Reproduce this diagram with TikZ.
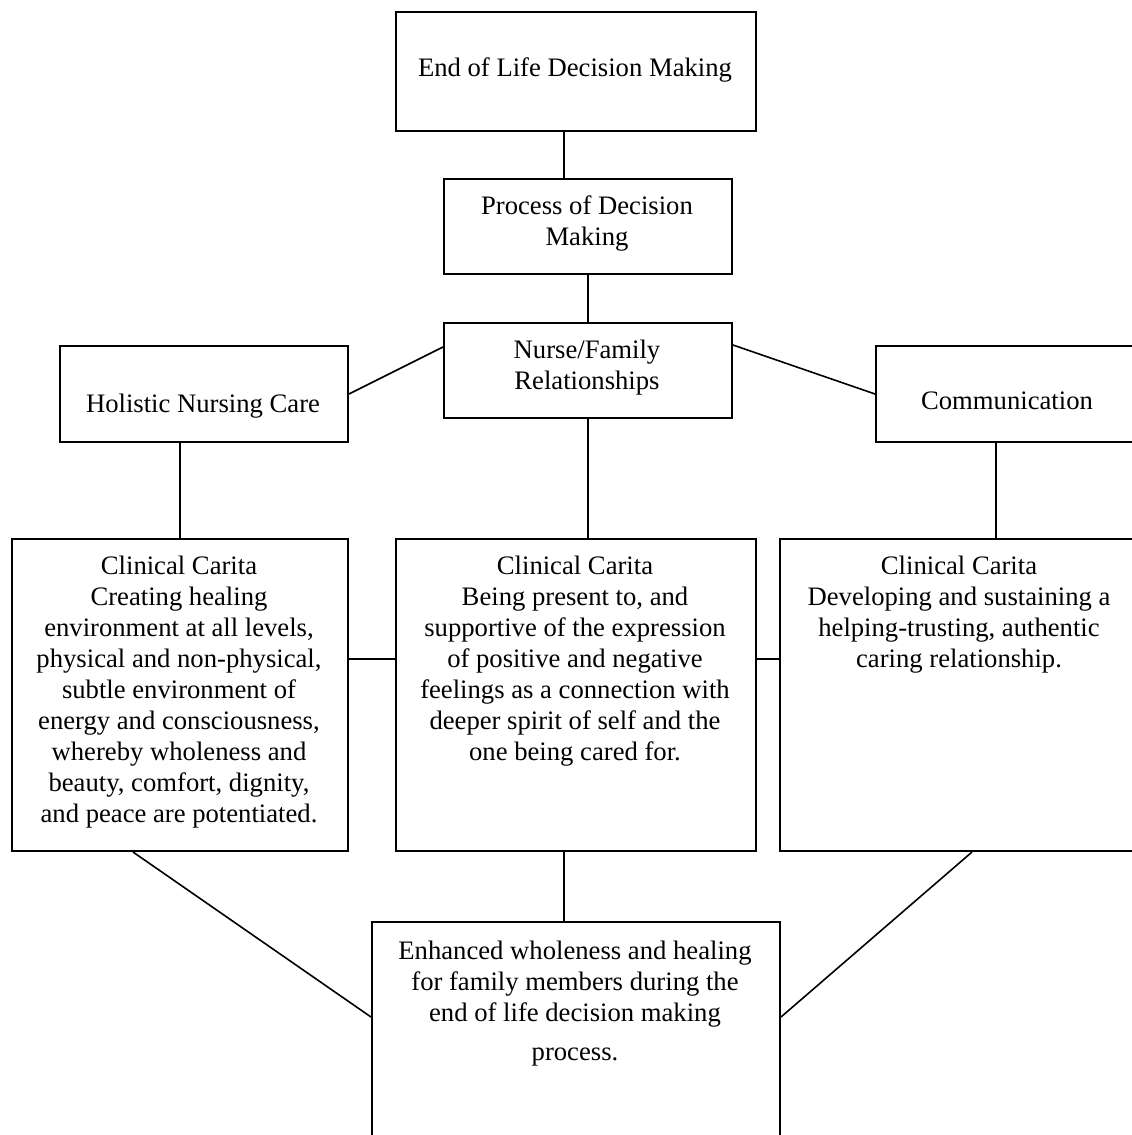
\documentclass[tikz,border=0pt]{standalone}
\usepackage{fontspec}
\setmainfont{Liberation Serif}
\begin{document}
\begin{tikzpicture}[x=0.5pt,y=-0.5pt,
  box/.style={draw,line width=1pt,rectangle,inner sep=0pt,anchor=north west},
  txt/.style={anchor=north,inner sep=0pt,align=center,font=\fontsize{13.33}{15.5}\selectfont},
  conn/.style={line width=0.8pt}]
\useasboundingbox (0,0) rectangle (1131,1135);
% boxes
\node[box,minimum width=180pt,minimum height=59.5pt] (end) at (395,11) {};
\node[box,minimum width=144pt,minimum height=47.5pt] (proc) at (443,178) {};
\node[box,minimum width=144pt,minimum height=47.5pt] (nurse) at (443,322) {};
\node[box,minimum width=144pt,minimum height=48pt] (hol) at (59,345) {};
\node[box,minimum width=132pt,minimum height=48pt] (comm) at (875,345) {};
\node[box,minimum width=168pt,minimum height=156pt] (car1) at (11,538) {};
\node[box,minimum width=180pt,minimum height=156pt] (car2) at (395,538) {};
\node[box,minimum width=180pt,minimum height=156pt] (car3) at (779,538) {};
\node[box,minimum width=204pt,minimum height=115pt] (bot) at (371,921) {};
% texts
\node[txt] (endt) at (575,57) {End of Life Decision Making};
\node[txt] (proct) at (587,195) {Process of Decision\\Making};
\node[txt] (nurset) at (587,340) {Nurse/Family\\Relationships};
\node[txt] (holt) at (203,394) {Holistic Nursing Care};
\node[txt] (commt) at (1007,391) {Communication};
\node[txt] (car1t) at (179,556) {Clinical Carita\\Creating healing\\environment at all levels,\\physical and non-physical,\\subtle environment of\\energy and consciousness,\\whereby wholeness and\\beauty, comfort, dignity,\\and peace are potentiated.};
\node[txt] (car2t) at (575,556) {Clinical Carita\\Being present to, and\\supportive of the expression\\of positive and negative\\feelings as a connection with\\deeper spirit of self and the\\one being cared for.};
\node[txt] (car3t) at (959,556) {Clinical Carita\\Developing and sustaining a\\helping-trusting, authentic\\caring relationship.};
\node[txt] (bott) at (575,941) {Enhanced wholeness and healing\\for family members during the\\end of life decision making\\[4pt]process.};
% connectors
\draw[conn] ([xshift=-6pt]end.south) -- ([xshift=-12pt]proc.north);
\draw[conn] (proc.south) -- (nurse.north);
\draw[conn] ([yshift=-12.5pt]nurse.north west) -- (hol.east);
\draw[conn] ([yshift=-11.5pt]nurse.north east) -- (comm.west);
\draw[conn] (hol.south -| car1.north) -- (car1.north);
\draw[conn] (nurse.south) -- (nurse.south |- car2.north);
\draw[conn] ([xshift=-6pt]comm.south) -- ([xshift=-6pt]comm.south |- car3.north);
\draw[conn] ([yshift=18pt]car1.east) -- ([yshift=18pt]car2.west);
\draw[conn] ([yshift=18pt]car2.east) -- ([yshift=18pt]car3.west);
\draw[conn] ([xshift=-6pt]car2.south) -- ([xshift=-6pt]bot.north);
\draw[conn] ([xshift=-23.5pt]car1.south) -- ([yshift=-48pt]bot.north west);
\draw[conn] ([xshift=6pt]car3.south) -- ([yshift=-48pt]bot.north east);
\end{tikzpicture}
\end{document}
